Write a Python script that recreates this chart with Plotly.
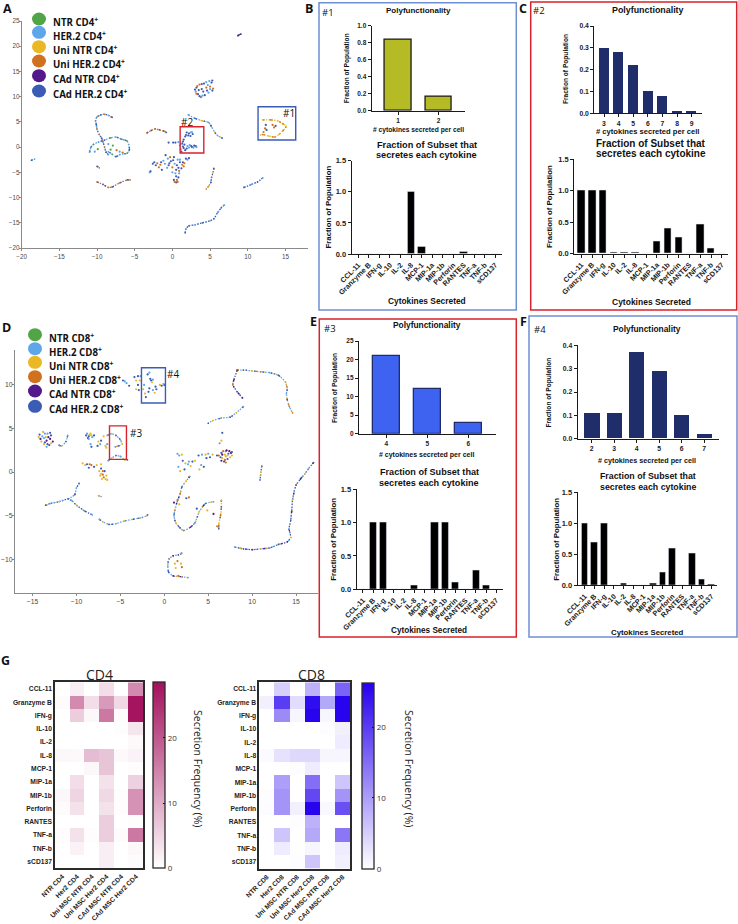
import plotly.graph_objects as go

W, H = 738, 924
BOLD = "Liberation Sans"
SOFT = "Open Sans"

# ---------- series colours ----------
GREEN, SKY, YEL, ORG, PUR, BLU = "#51a547", "#5ea5ea", "#e9b824", "#d0711f", "#52188c", "#3a5cb5"

SERIES_CD4 = ["NTR CD4", "HER.2 CD4", "Uni NTR CD4", "Uni HER.2 CD4", "CAd NTR CD4", "CAd HER.2 CD4"]
SERIES_CD8 = ["NTR CD8", "HER.2 CD8", "Uni NTR CD8", "Uni HER.2 CD8", "CAd NTR CD8", "CAd HER.2 CD8"]
SERIES_COLORS = [GREEN, SKY, YEL, ORG, PUR, BLU]

# ---------- panel A traces (UMAP coordinates) ----------
a_top = [(8.7, 22.1), (8.9, 22.3), (9.1, 22.4)]
a_ring = [(3.2, 11.8), (3.6, 12.4), (4.2, 12.6), (4.9, 13.1), (5.2, 12.8), (5.0, 12.0), (5.3, 11.2), (4.8, 10.8),
          (4.3, 10.3), (3.8, 9.9), (3.4, 10.5), (3.1, 11.0), (3.9, 11.5), (4.5, 11.8), (3.5, 11.3), (4.7, 12.3),
          (3.0, 11.4), (3.3, 12.1), (3.9, 12.5), (4.5, 12.9), (5.3, 13.2), (5.4, 11.6), (4.6, 11.2), (4.0, 10.2),
          (3.6, 10.1), (3.2, 10.6), (4.1, 11.0), (5.0, 11.5)]
a_arc = [(2.1, 6.4), (3.0, 5.7), (4.0, 5.2), (4.8, 4.9), (5.1, 4.3), (5.6, 3.0), (6.0, 2.3), (6.6, 1.8)]
a_box1 = [(12.0, 5.4), (13.0, 5.4), (14.0, 5.2), (14.7, 4.6), (15.1, 4.1), (14.7, 3.3), (14.2, 2.6), (13.6, 2.0),
          (12.8, 2.2), (12.0, 2.5), (11.7, 2.4)]
a_box1_in = [(12.3, 3.7), (12.5, 3.4), (13.3, 4.4), (13.7, 4.2), (13.5, 3.9), (12.4, 4.4), (12.1, 3.0)]
a_hook = [(-8.0, 5.9), (-8.5, 6.3), (-9.0, 6.5), (-9.5, 6.4), (-10.0, 6.0), (-10.2, 5.2), (-10.1, 4.5), (-10.0, 3.5),
          (-9.7, 2.5), (-9.4, 1.8), (-9.2, 1.0), (-9.0, 0.0), (-8.8, -1.0), (-8.5, -1.5)]
a_oval = [(-11.0, -1.0), (-10.8, 0.0), (-10.5, 0.5), (-9.8, 1.0), (-9.0, 1.4), (-8.3, 1.8), (-7.5, 2.0), (-6.8, 1.6),
          (-6.0, 1.2), (-5.8, 0.5), (-5.7, -0.5), (-6.0, -1.2), (-7.0, -1.5), (-7.5, -1.9), (-8.0, -1.4), (-8.5, -0.9)]
a_oval_in = [(-8.5, 0.6), (-7.9, 0.3), (-7.4, -0.6), (-7.0, -0.9), (-8.2, -0.5), (-6.6, -1.1), (-10.3, -0.9), (-9.9, -0.4)]
a_bow = [(-3.4, 2.8), (-2.8, 3.3), (-2.3, 3.6), (-1.7, 3.4), (-1.0, 3.1), (-0.8, 2.9)]
a_box2 = [(1.8, 2.4), (2.2, 2.7), (2.6, 3.0), (2.4, 2.2), (1.5, 1.5), (0.8, 1.0), (0.1, 0.9), (-0.5, 0.9), (1.0, 0.3),
          (1.5, -0.2), (1.2, -0.9), (2.0, 0.2), (2.6, 0.0), (3.1, 0.2), (3.2, 0.0), (1.9, -0.3), (1.3, 0.7), (2.3, 0.4),
          (1.9, 2.9), (2.7, 2.6), (2.8, -0.1), (1.6, 0.5), (2.1, 2.3), (2.4, 2.9), (1.7, 2.1), (1.4, 1.1), (1.1, 0.6),
          (0.4, 0.9), (1.7, -0.6), (2.2, -0.1), (2.9, 0.3), (1.4, 0.1), (1.1, -0.4), (2.5, 0.2)]
a_mass = [(-0.9, -1.6), (-0.3, -2.0), (0.2, -2.0), (0.7, -2.5), (1.0, -3.0), (1.5, -3.8), (2.2, -2.2), (2.0, -2.5),
          (-2.4, -3.0), (-2.0, -3.2), (-1.5, -3.0), (-1.0, -3.3), (-0.5, -3.6), (0.0, -4.0), (0.5, -4.5), (0.9, -5.2),
          (0.5, -5.8), (0.6, -6.5), (0.5, -7.0), (-3.0, -5.0), (-2.9, -4.8), (-1.8, -4.0), (-1.4, -4.5), (0.0, -5.0),
          (1.2, -4.2), (1.6, -3.2), (-0.2, -2.8), (0.3, -3.3), (0.2, -6.5), (0.7, -6.9), (-2.2, -3.6), (-0.7, -4.1),
          (1.8, -2.3), (1.3, -3.5), (0.8, -4.1), (0.4, -5.2), (0.8, -6.0), (0.3, -6.9), (-0.4, -3.2), (-1.2, -2.7),
          (-2.6, -3.3), (-1.6, -3.5), (0.6, -3.6), (1.0, -2.5), (0.1, -2.6), (0.9, -4.7), (1.4, -3.0), (-0.6, -2.3)]
a_tick = [(-10.0, -3.8), (-9.7, -4.1)]
a_vee = [(-10.0, -6.9), (-9.2, -7.4), (-8.5, -8.0), (-8.0, -7.9), (-7.0, -7.1), (-6.0, -6.5), (-5.6, -6.5)]
a_rod = [(5.5, -4.2), (5.4, -5.0), (5.2, -6.0), (5.1, -7.0), (4.8, -7.8), (4.5, -8.3)]
a_slash = [(9.5, -8.0), (10.5, -7.4), (11.3, -6.9), (12.0, -6.1)]
a_tail = [(1.7, -17.0), (1.8, -16.2), (2.2, -15.6), (3.0, -15.4), (4.0, -15.0), (5.0, -14.6), (5.5, -14.2), (6.0, -13.0),
          (6.5, -12.0), (6.9, -11.5)]
a_far = [(-18.7, -2.6), (-18.3, -2.4)]

# (points, colours, drawn as a strand?)
A_TRACES = [
    (a_top, [PUR, BLU], True), (a_ring, [BLU, ORG, BLU, SKY], False), (a_arc, [SKY, BLU, YEL], True),
    (a_box1, [YEL, ORG], True), (a_box1_in, [ORG, BLU], False), (a_hook, [BLU, SKY, ORG], True),
    (a_oval, [SKY, BLU, GREEN], True), (a_oval_in, [SKY, GREEN, ORG], False), (a_bow, [ORG, BLU], True),
    (a_box2, [BLU, BLU, SKY], False), (a_mass, [BLU, ORG, BLU, SKY], False), (a_tick, [BLU, ORG], True),
    (a_vee, [ORG, BLU], True), (a_rod, [BLU, YEL, ORG], True), (a_slash, [BLU, SKY], True),
    (a_tail, [BLU, SKY], True), (a_far, [BLU, SKY], True),
]

# ---------- panel D traces ----------
d_top = [(8.3, 11.7), (9.0, 11.7), (10.0, 11.6), (11.0, 11.5), (12.0, 11.4), (13.0, 11.1), (13.8, 10.3), (14.0, 9.5),
         (13.9, 9.0), (14.0, 8.3), (14.2, 7.6), (14.6, 6.8)]
d_top_l = [(8.3, 11.7), (7.9, 10.5), (7.8, 10.0), (8.3, 9.2), (8.9, 8.5)]
d_mid = [(9.0, 7.5), (8.2, 6.8), (7.5, 6.3), (6.5, 6.2), (5.5, 5.9), (5.0, 5.6)]
d_ring = [(6.6, 1.6), (6.5, 2.2), (7.0, 2.4), (7.6, 2.2), (7.7, 1.9), (7.2, 1.5), (6.9, 1.4), (6.5, 1.3), (6.9, 2.0),
          (7.3, 2.1), (6.2, 1.9), (7.4, 2.4), (7.0, 1.8), (6.4, 1.7), (6.7, 2.4), (7.1, 2.5), (7.5, 1.7), (6.8, 1.2),
          (7.0, 1.1), (6.6, 2.0), (7.2, 1.9), (7.7, 2.3)]
d_spray = [(1.5, 2.1), (2.0, 2.0), (2.1, 1.3), (1.6, 0.6), (1.8, 0.1), (2.3, 0.3), (2.8, 1.2), (3.5, 1.3), (3.9, 1.9),
           (4.2, 0.8), (4.0, 0.3), (4.5, 0.6), (5.0, 2.1), (5.5, 2.0), (6.0, 1.9), (6.3, 3.3), (6.5, 3.6), (6.6, 4.5),
           (2.7, 0.9), (3.0, 0.7), (4.8, 1.6), (1.7, 1.9), (2.4, 1.0), (3.2, 1.2), (4.3, 2.0), (4.7, 2.0), (5.2, 1.7)]
d_long = [(17.0, 1.1), (16.5, 0.5), (16.0, -0.2), (15.5, -0.8), (15.0, -1.5), (14.8, -2.2), (14.6, -3.2), (14.5, -4.5),
          (14.4, -5.5), (14.2, -6.5), (14.4, -7.5), (14.0, -8.0), (13.0, -8.3), (12.0, -8.7), (11.0, -8.8), (10.0, -8.9),
          (9.0, -8.8), (8.0, -8.6)]
d_short = [(11.1, 0.7), (11.0, 0.0), (10.9, -0.9)]
d_u = [(2.9, -0.5), (2.5, -1.0), (2.0, -1.7), (1.8, -2.5), (1.4, -3.6), (1.1, -5.0), (1.3, -5.8), (1.8, -6.4), (2.2, -6.7),
       (3.0, -6.3), (3.5, -5.8), (4.0, -4.5), (4.7, -3.6), (5.6, -3.4)]
d_u_in = [(1.5, -3.2), (1.7, -3.7), (1.1, -3.5), (2.5, -3.0), (2.8, -2.9), (4.9, -4.4), (5.6, -4.8), (3.7, -4.2)]
d_rod = [(6.5, -3.2), (6.5, -4.0), (6.4, -5.0), (6.2, -6.0), (6.2, -6.5), (6.0, -6.2)]
d_c = [(2.0, -9.3), (1.6, -9.5), (1.0, -9.6), (0.5, -10.0), (0.4, -10.8), (0.5, -11.5), (1.0, -11.9), (2.0, -12.0), (2.7, -12.1)]
d_c_in = [(1.2, -10.5), (1.5, -10.2), (1.3, -11.0), (2.0, -10.9), (1.9, -10.5), (1.6, -11.9)]
d_fork = [(-13.5, -3.8), (-13.0, -3.6), (-12.0, -3.4), (-11.0, -3.1), (-10.5, -3.3), (-10.0, -3.8), (-9.0, -4.5), (-8.2, -4.9)]
d_fork_up = [(-11.0, -3.1), (-10.2, -2.6), (-10.0, -1.8), (-9.7, -1.3)]
d_low = [(-7.4, -5.4), (-7.0, -5.7), (-6.3, -6.0), (-5.5, -5.9), (-4.5, -5.6), (-3.5, -5.4), (-2.5, -5.2), (-2.0, -5.0), (-1.9, -4.9)]
d_dash = [(-7.5, -2.7), (-7.2, -2.8)]
d_blob = [(-14.2, 4.3), (-13.8, 4.6), (-13.3, 4.4), (-13.0, 3.8), (-13.3, 3.2), (-14.0, 3.5), (-13.7, 3.9), (-12.7, 3.5),
          (-13.1, 3.1), (-13.5, 4.0), (-13.9, 4.1), (-13.4, 3.6), (-12.9, 4.2), (-14.3, 4.0), (-13.6, 4.4), (-13.2, 4.0),
          (-13.6, 3.4), (-12.9, 3.3), (-13.4, 2.9), (-14.1, 3.8), (-13.0, 4.5), (-13.7, 3.2)]
d_bit = [(-12.0, 3.1), (-11.7, 3.0), (-11.2, 3.5), (-11.0, 4.2)]
d_blob2 = [(-8.9, 4.2), (-8.4, 4.4), (-8.2, 4.0), (-8.7, 3.9), (-8.5, 4.3), (-8.4, 3.2), (-8.3, 2.9), (-7.5, 3.5),
           (-7.3, 3.2), (-7.6, 3.0), (-6.6, 2.8), (-6.5, 3.2), (-8.0, 4.2), (-6.9, 4.1), (-8.8, 4.4), (-8.6, 4.1),
           (-8.3, 4.2), (-8.6, 3.8), (-7.2, 3.6), (-6.7, 3.0)]
d_box3 = [(-6.5, 4.2), (-6.0, 4.4), (-5.5, 4.2), (-5.0, 3.7), (-4.8, 3.2), (-5.2, 3.0), (-5.6, 2.9)]
d_box3_low = [(-6.4, 1.3), (-6.0, 1.6), (-5.5, 1.9), (-5.0, 1.8), (-4.5, 1.4), (-4.2, 1.4)]
d_band = [(-9.3, 1.0), (-9.0, 0.8), (-8.6, 0.5), (-8.3, 0.8), (-7.7, 0.8), (-7.2, 0.9), (-7.2, 0.4), (-7.0, -0.3), (-6.7, -0.8),
          (-7.2, -0.2), (-6.8, 0.1), (-6.9, -0.6), (-7.4, 0.1), (-6.5, -0.9), (-8.8, 0.9), (-7.0, 0.1), (-7.3, -0.4),
          (-6.6, -0.4), (-8.0, 0.6), (-8.5, 0.9), (-7.1, -0.8)]
d_box4 = [(-4.7, 10.5), (-4.3, 10.2), (-4.0, 9.9), (-3.2, 10.5), (-3.0, 11.0), (-2.7, 11.0), (-3.0, 10.0), (-3.2, 9.5),
          (-2.9, 9.4), (-1.7, 11.4), (-1.5, 10.5), (-2.2, 9.0), (-1.8, 9.2), (-1.3, 9.4), (-0.9, 9.5), (-0.5, 10.0),
          (0.0, 10.0), (-2.3, 10.0), (-2.1, 8.6), (-1.4, 10.3), (-1.9, 11.2), (-4.5, 10.4), (-0.3, 9.9), (-1.1, 9.1),
          (-1.6, 10.7), (-1.3, 10.6), (-1.7, 9.6), (-2.4, 9.5), (-1.0, 9.8), (-0.1, 10.1), (-3.4, 10.9), (-2.8, 10.5)]

D_TRACES = [
    (d_top, [SKY, BLU, YEL, ORG], True), (d_top_l, [BLU, PUR, ORG], True), (d_mid, [SKY, YEL, BLU], True),
    (d_ring, [YEL, BLU, ORG, PUR], False), (d_spray, [SKY, YEL, BLU], False), (d_long, [BLU, SKY, YEL, PUR], True),
    (d_short, [BLU, YEL], True), (d_u, [SKY, YEL, BLU, ORG, PUR], True), (d_u_in, [ORG, YEL, PUR, BLU], False),
    (d_rod, [YEL, BLU, ORG], True), (d_c, [SKY, BLU, PUR, YEL], True), (d_c_in, [YEL, ORG], False),
    (d_fork, [BLU, SKY, YEL], True), (d_fork_up, [SKY, BLU], True), (d_low, [SKY, YEL, BLU], True),
    (d_dash, [YEL, SKY], True), (d_blob, [BLU, YEL, SKY, PUR], False), (d_bit, [SKY, YEL, BLU], True),
    (d_blob2, [BLU, YEL, SKY], False), (d_box3, [SKY, YEL, BLU], True), (d_box3_low, [SKY, YEL, BLU], True),
    (d_band, [YEL, YEL, BLU, ORG], False), (d_box4, [BLU, SKY, BLU, YEL], False),
]

# ---------- bar data ----------
CYTOKINES = ["CCL-11", "Granzyme B", "IFN-g", "IL-10", "IL-2", "IL-8", "MCP-1", "MIP-1a", "MIP-1b", "Perforin",
             "RANTES", "TNF-a", "TNF-b", "sCD137"]

poly1_n = [1, 2]
poly1_v = [0.83, 0.165]
poly2_n = [3, 4, 5, 6, 7, 8, 9]
poly2_v = [0.30, 0.28, 0.22, 0.10, 0.08, 0.012, 0.012]
poly3_n = [4, 5, 6]
poly3_v = [21, 12, 3]
poly4_n = [2, 3, 4, 5, 6, 7]
poly4_v = [0.11, 0.11, 0.37, 0.29, 0.10, 0.02]

sec1 = [0, 0, 0, 0, 0, 1.0, 0.11, 0, 0, 0, 0.04, 0.01, 0, 0]
sec2 = [1.0, 1.0, 1.0, 0.02, 0.03, 0.03, 0, 0.19, 0.40, 0.26, 0, 0.46, 0.09, 0]
sec3 = [0, 1.0, 1.0, 0, 0, 0.06, 0, 1.0, 1.0, 0.11, 0, 0.28, 0.06, 0]
sec4 = [1.0, 0.69, 1.0, 0, 0.03, 0, 0, 0.03, 0.21, 0.59, 0, 0.51, 0.09, 0.02]

# ---------- heatmap data ----------
GROUPS_CD4 = ["NTR CD4", "Her2 CD4", "Uni MSC NTR CD4", "Uni MSC Her2 CD4", "CAd MSC NTR CD4", "CAd MSC Her2 CD4"]
GROUPS_CD8 = ["NTR CD8", "Her2 CD8", "Uni MSC NTR CD8", "Uni MSC Her2 CD8", "CAd MSC NTR CD8", "CAd MSC Her2 CD8"]
heat_cd4 = [
    [0, 2, 0, 4, 0, 14], [0.5, 14, 4, 12, 4.5, 28], [0, 6, 1, 16, 0.5, 28], [0, 0, 0, 0, 0.2, 3],
    [0, 0, 0, 0, 0, 0.7], [1, 0.7, 8, 7, 0.7, 1.5], [0, 0, 0.8, 7, 0, 0.3], [0, 4, 0, 3.5, 0, 5.5],
    [1, 5, 0, 4.5, 0.3, 13], [0.5, 3.5, 0, 3.5, 0.4, 13], [0, 0, 0, 6, 0, 0.2], [0.4, 3.5, 0.3, 6, 0.5, 16],
    [0, 1.5, 0, 2, 0, 1], [0, 0, 0, 2, 0, 0.5],
]
heat_cd8 = [
    [0, 5, 0, 8, 0, 16], [1.5, 20, 3.5, 25, 9, 26], [0, 12, 1, 26, 1, 26], [0, 0, 0, 0, 0.3, 1.5],
    [0, 0, 0, 0, 0, 2], [0.5, 3, 4, 4, 1, 1], [0, 0, 0.3, 2, 0, 0], [0, 10, 0, 15, 0, 6],
    [0.3, 11, 0, 19, 0, 11], [0.4, 11, 1.5, 26, 0.7, 18], [0, 0, 0.2, 8, 0, 0], [0, 6, 0.1, 9, 0, 14],
    [0, 2, 0.1, 1, 0, 2], [0, 0, 0.2, 6, 0, 1.5],
]

# ---------- helpers ----------
px = lambda x: x / W
py = lambda y: 1 - y / H
fig = go.Figure()
layout = {}
notes = []
shapes = []
axis_no = [0]


def note(x, y, text, size=8, family=BOLD, bold=True, angle=0, color="#111111", align="center"):
    notes.append(dict(x=px(x), y=py(y), xref="paper", yref="paper", showarrow=False, xanchor=align, yanchor="middle",
                      text=f"<b>{text}</b>" if bold else text, textangle=angle,
                      font=dict(size=size, family=family, color=color), align="center"))


def frame(x0, y0, x1, y1, color, width=1.5):
    shapes.append(dict(type="rect", xref="paper", yref="paper", x0=px(x0), x1=px(x1), y0=py(y0), y1=py(y1),
                       line=dict(color=color, width=width), fillcolor="rgba(0,0,0,0)"))


def new_axes(box, xcfg, ycfg):
    axis_no[0] += 1
    n = axis_no[0]
    suffix = "" if n == 1 else str(n)
    x0, ytop, x1, ybot = box
    layout["xaxis" + suffix] = dict(domain=[px(x0), px(x1)], anchor="y" + suffix, **xcfg)
    layout["yaxis" + suffix] = dict(domain=[py(ybot), py(ytop)], anchor="x" + suffix, **ycfg)
    return "x" + suffix, "y" + suffix


def bar_axes(xrange, yrange, ytickvals, yfmt, tick_size, xticks=None, angle=0):
    base = dict(showgrid=False, zeroline=False, showline=True, linecolor="#1a1a1a", linewidth=1.2, ticks="outside",
                ticklen=3, tickwidth=1, tickcolor="#1a1a1a")
    tf = dict(size=tick_size, family=BOLD, color="#222222", weight=700)
    xc = dict(base, range=xrange, tickfont=tf, tickangle=angle)
    if xticks is not None:
        xc.update(tickmode="array", tickvals=xticks, ticktext=[str(v) for v in xticks])
    else:
        xc.update(type="category", categoryorder="array", categoryarray=CYTOKINES, tickmode="array",
                  tickvals=CYTOKINES, ticktext=CYTOKINES)
    yc = dict(base, range=yrange, tickmode="array", tickvals=ytickvals, tickformat=yfmt, tickfont=tf)
    return xc, yc


def poly_panel(box, xrange, yrange, yticks, yfmt, ns, vals, fill, outline, width, tick_size=6.5):
    xc, yc = bar_axes(xrange, yrange, yticks, yfmt, tick_size, xticks=ns)
    xa, ya = new_axes(box, xc, yc)
    fig.add_trace(go.Bar(x=ns, y=vals, width=width, xaxis=xa, yaxis=ya, showlegend=False,
                         marker=dict(color=fill, line=dict(color=outline, width=1.3 if outline != fill else 0))))


def sec_panel(box, xrange, vals, tick_size=7.2):
    xc, yc = bar_axes(xrange, [0, 1.5], [0, 0.5, 1.0, 1.5], ".1f", tick_size, angle=-45)
    yc["tickfont"] = dict(size=7.5, family=BOLD, color="#222222", weight=700)
    xa, ya = new_axes(box, xc, yc)
    fig.add_trace(go.Bar(x=CYTOKINES, y=vals, width=0.7, xaxis=xa, yaxis=ya, showlegend=False, marker_color="#000000"))


def umap_panel(box, xrange, yrange, xticks, yticks, traces, tick_size):
    base = dict(showgrid=False, zeroline=False, showline=True, linecolor="#8a8a8a", linewidth=1, ticks="outside",
                ticklen=2, tickwidth=1, tickcolor="#8a8a8a", tickmode="array",
                tickfont=dict(size=tick_size, family=BOLD, color="#4a4a4a"))
    xa, ya = new_axes(box, dict(base, range=xrange, tickvals=xticks),
                      dict(base, range=yrange, tickvals=yticks, ticklabelstandoff=-2))
    for pts, colours, strand in traces:
        xs = [p[0] for p in pts]
        ys = [p[1] for p in pts]
        if strand:
            for i, c in enumerate(colours):
                gap = 1.3 if i == 0 else 2 + 5 * i
                fig.add_trace(go.Scatter(x=xs, y=ys, mode="lines", xaxis=xa, yaxis=ya, showlegend=False, hoverinfo="skip",
                                         line=dict(color=c, width=1.3, dash=f"1.5px,{gap}px", shape="spline", smoothing=0.6)))
        mc = [colours[i % len(colours)] for i in range(len(pts))]
        fig.add_trace(go.Scatter(x=xs, y=ys, mode="markers", xaxis=xa, yaxis=ya, showlegend=False,
                                 marker=dict(size=1.7 if strand else 2.2, color=mc, line=dict(width=0))))
    return xa, ya


def key(names, colours, cx, cys, tx, tys):
    for name, c, cy, ty in zip(names, colours, cys, tys):
        shapes.append(dict(type="circle", xref="paper", yref="paper", x0=px(cx - 7), x1=px(cx + 7), y0=py(cy + 6.5),
                           y1=py(cy - 6.5), fillcolor=c, line=dict(width=0)))
        note(tx, ty, f"{name}<sup>+</sup>", size=9.7, family=SOFT, align="left")


def heat_panel(box, z, groups, colour, zmax, ticks, cb_x):
    x0, y0, x1, y1 = box
    base = dict(showgrid=False, zeroline=False, showline=True, mirror=True, linecolor="#2b2b2b", linewidth=1.5, ticks="",
                tickfont=dict(size=6.7, family=BOLD, color="#222222", weight=700), tickmode="array")
    xa, ya = new_axes(box, dict(base, tickangle=-45, tickvals=groups, ticktext=groups),
                      dict(base, autorange="reversed", tickvals=CYTOKINES, ticktext=CYTOKINES))
    fig.add_trace(go.Heatmap(
        z=z, x=groups, y=CYTOKINES, xaxis=xa, yaxis=ya, zmin=0, zmax=zmax, colorscale=[[0, "#ffffff"], [1, colour]],
        xgap=0, ygap=0,
        colorbar=dict(x=px(cb_x), xanchor="left", xref="paper", y=py(y1), yanchor="bottom", yref="paper",
                      lenmode="pixels", len=y1 - y0, thicknessmode="pixels", thickness=11.5, xpad=0, ypad=0,
                      outlinecolor="#2b2b2b", outlinewidth=1.3, ticks="inside", ticklen=2, tickcolor="#111111",
                      tickmode="array", tickvals=ticks, tickfont=dict(size=8, family=SOFT, color="#333333"))))


# ---------- panel A ----------
umap_panel((21.7, 21, 308, 248), [-20, 18], [-20, 25], [-20, -15, -10, -5, 0, 5, 10, 15],
           [-20, -15, -10, -5, 0, 5, 10, 15, 20, 25], A_TRACES, 6.3)
layout["shapes"] = shapes
shapes.append(dict(type="rect", xref="x", yref="y", x0=11.37, x1=16.37, y0=1.4, y1=8.0,
                   line=dict(color="#3a5cb5", width=1.4)))
shapes.append(dict(type="rect", xref="x", yref="y", x0=1.03, x1=4.17, y0=-1.17, y1=4.05,
                   line=dict(color="#d8232a", width=1.4)))
note(288.5, 113, "#1", size=10, family=SOFT, bold=False)
note(186.7, 121.7, "#2", size=10, family=SOFT, bold=False)
note(7.5, 8.8, "A", size=12.5, family=SOFT)
key(SERIES_CD4, SERIES_COLORS, 39, [19, 32.3, 46.7, 61, 75.7, 91], 51, [22, 35.7, 50, 64, 79.3, 94.3])

# ---------- panel B ----------
frame(319, 2.7, 516.3, 310, "#6f8fd2")
note(309, 8.8, "B", size=12.5, family=SOFT)
note(328, 12.5, "#1", size=9.5, family=SOFT, bold=False)
note(418, 10, "Polyfunctionality", size=8)
poly_panel((371.7, 25.7, 465, 110.7), [0.35, 2.65], [0, 1], [0, 0.2, 0.4, 0.6, 0.8, 1.0], ".1f", poly1_n, poly1_v,
           "#b5bb24", "#1a1a1a", 0.66)
note(418, 129.5, "# cytokines secreted per cell", size=6.7)
note(347.3, 68, "Fraction of Population", size=6.6, angle=-90)
note(426.7, 144.5, "Fraction of Subset that", size=9.2)
note(426.7, 155.5, "secretes each cytokine", size=9.2)
sec_panel((351.7, 160.7, 502, 254), [-0.63, 13.63], sec1)
note(327.5, 207, "Fraction of Population", size=7.8, angle=-90)
note(426.7, 301, "Cytokines Secreted", size=8.4)

# ---------- panel C ----------
frame(530.7, 2, 736.7, 310, "#d8232a")
note(523, 8.8, "C", size=12.5, family=SOFT)
note(539, 11, "#2", size=9.5, family=SOFT, bold=False)
note(647.7, 10.5, "Polyfunctionality", size=8.9)
poly_panel((594.3, 26, 701.7, 113.3), [2.336, 9.68], [0, 0.4], [0, 0.1, 0.2, 0.3, 0.4], ".1f", poly2_n, poly2_v,
           "#1f2d6b", "#1f2d6b", 0.68, tick_size=6.8)
note(647.7, 132, "# cytokines secreted per cell", size=7.6)
note(566, 69, "Fraction of Population", size=6.6, angle=-90)
note(651, 143, "Fraction of Subset that", size=10)
note(651, 154, "secretes each cytokine", size=10)
sec_panel((574.3, 159.3, 728.3, 253.7), [-0.65, 13.6], sec2)
note(549.3, 206.7, "Fraction of Population", size=7.8, angle=-90)
note(651.3, 301.7, "Cytokines Secreted", size=8.5)

# ---------- panel D ----------
umap_panel((15, 350, 318, 593.3), [-17, 17.5], [-13.9, 14], [-15, -10, -5, 0, 5, 10, 15], [-10, -5, 0, 5, 10], D_TRACES, 6.8)
shapes.append(dict(type="rect", xref="x" + str(axis_no[0]), yref="y" + str(axis_no[0]),
                   x0=-2.6, x1=0.13, y0=7.92, y1=11.96, line=dict(color="#3a5cb5", width=1.4)))
shapes.append(dict(type="rect", xref="x" + str(axis_no[0]), yref="y" + str(axis_no[0]),
                   x0=-6.24, x1=-4.31, y0=1.46, y1=5.3, line=dict(color="#d8232a", width=1.4)))
note(172.7, 374, "#4", size=10, family=SOFT, bold=False)
note(136, 433, "#3", size=10, family=SOFT, bold=False)
note(6.5, 327, "D", size=12.5, family=SOFT)
key(SERIES_CD8, SERIES_COLORS, 35, [334.7, 348.7, 362.3, 376.7, 391, 406.3], 47, [338.3, 352.3, 365.7, 379.7, 394.3, 409])

# ---------- panel E ----------
frame(319.3, 319, 516.3, 637, "#d8232a")
note(313, 321, "E", size=12.5, family=SOFT)
note(330, 328, "#3", size=9.5, family=SOFT, bold=False)
note(426.7, 325, "Polyfunctionality", size=8.4)
poly_panel((359, 341, 495.7, 433.7), [3.334, 6.668], [0, 25], [0, 5, 10, 15, 20, 25], "d", poly3_n, poly3_v,
           "#3e63f0", "#1f2d6b", 0.65)
note(426.7, 455, "# cytokines secreted per cell", size=7)
note(334.3, 387.7, "Fraction of Population", size=6.6, angle=-90)
note(429.3, 472, "Fraction of Subset that", size=9.1)
note(429.3, 483.5, "secretes each cytokine", size=9.1)
sec_panel((356.7, 489.3, 502.7, 589.3), [-0.61, 13.62], sec3)
note(332.7, 539, "Fraction of Population", size=7.8, angle=-90)
note(429.3, 630.3, "Cytokines Secreted", size=8.2)

# ---------- panel F ----------
frame(529, 316, 737, 637, "#6f8fd2")
note(523, 321.7, "F", size=12.5, family=SOFT)
note(540.3, 329, "#4", size=9.5, family=SOFT, bold=False)
note(647.3, 329, "Polyfunctionality", size=8.4)
poly_panel((577.7, 345.3, 719, 438.7), [1.377, 7.667], [0, 0.4], [0, 0.1, 0.2, 0.3, 0.4], ".1f", poly4_n, poly4_v,
           "#1f2d6b", "#1f2d6b", 0.67, tick_size=6.8)
note(647.3, 460, "# cytokines secreted per cell", size=7.2)
note(549.3, 392.3, "Fraction of Population", size=6.6, angle=-90)
note(647.7, 476, "Fraction of Subset that", size=8.8)
note(647.7, 487, "secretes each cytokine", size=8.8)
sec_panel((577.7, 492.3, 717.3, 585.3), [-0.72, 13.6], sec4)
note(555.7, 539, "Fraction of Population", size=7.8, angle=-90)
note(647.7, 632, "Cytokines Secreted", size=7.8)

# ---------- panel G ----------
note(5.5, 660, "G", size=12.5, family=SOFT)
note(100, 674, "CD4", size=14, family=SOFT, bold=False, color="#222222")
note(311.7, 674, "CD8", size=14, family=SOFT, bold=False, color="#222222")
heat_panel((55, 682.3, 143.3, 868.3), heat_cd4, GROUPS_CD4, "#a3105c", 28.5, [0, 10, 20], 153.3)
heat_panel((259.3, 682.3, 350, 868.7), heat_cd8, GROUPS_CD8, "#2500ee", 26.3, [0, 10, 20], 361.7)
note(198, 768, "Secretion Frequency (%)", size=10.5, family=SOFT, bold=False, angle=90, color="#222222")
note(409, 768, "Secretion Frequency (%)", size=10.5, family=SOFT, bold=False, angle=90, color="#222222")

layout.update(width=W, height=H, margin=dict(l=0, r=0, t=0, b=0, autoexpand=False), paper_bgcolor="white",
              plot_bgcolor="white", annotations=notes, bargap=0, hovermode=False, showlegend=False)
fig.update_layout(**layout)
fig.write_html("out.html", post_script="document.body.style.margin='0';", config=dict(displayModeBar=False))
